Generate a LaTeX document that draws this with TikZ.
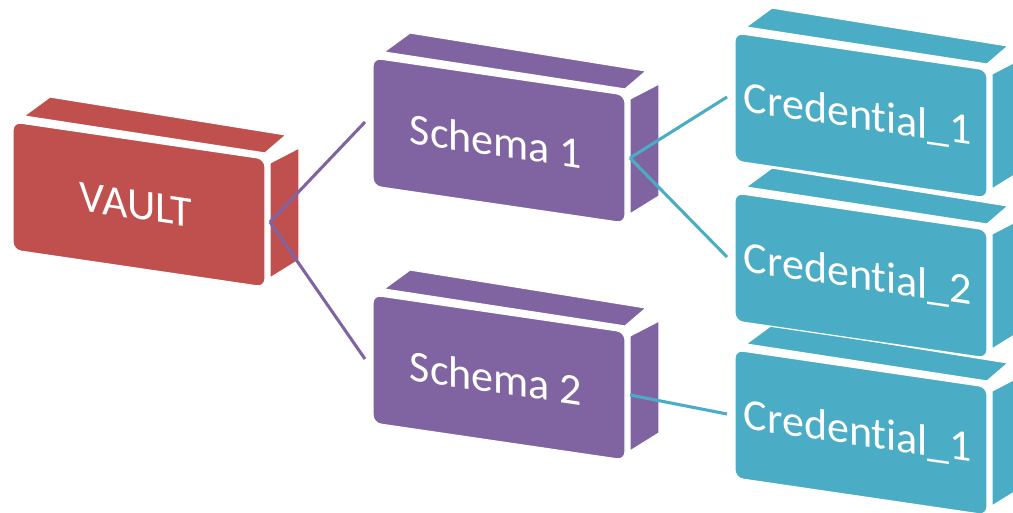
\documentclass[tikz,border=0pt]{standalone}
\usepackage{fontspec}
\setmainfont{Carlito}[Ligatures=NoCommon]
\definecolor{vred}{HTML}{C0504D}
\definecolor{vpurple}{HTML}{8064A2}
\definecolor{vteal}{HTML}{4BACC6}
\tikzset{
  face/.style={fill=#1, draw=white, line width=0.9pt},
  frontface/.style={fill=#1, draw=white, line width=0.9pt, rounded corners=6pt},
  boxtext/.style={text=white, font=\fontsize{33}{40}\selectfont, yslant=-0.147, inner sep=0pt},
  conn/.style={line width=2.3pt, draw=#1},
}
% name, x, y (front top-left, px), colour, text
\newcommand{\threedbox}[5]{%
  \path[face=#4] (#2+11,#3-6) -- (#2+37,#3-25) -- (#2+273,#3+13) -- (#2+252,#3+31) -- cycle;
  \path[face=#4] (#2+257,#3+41) -- (#2+286,#3+26) -- (#2+286,#3+138) -- (#2+257,#3+156) -- cycle;
  \path[frontface=#4] (#2,#3) -- (#2+252,#3+37) -- (#2+252,#3+165) -- (#2,#3+128) -- cycle;
  \node[boxtext] (#1) at (#2+123,#3+83) {#5};
  \coordinate (#1-in) at (#2-8,#3+64);
  \coordinate (#1-out) at (#2+257,#3+100);
}
\begin{document}
\begin{tikzpicture}[x=0.75pt,y=-0.75pt]
\useasboundingbox (0,0) rectangle (1013,513);
\threedbox{vault}{13}{122}{vred}{VAULT}
\threedbox{schemaA}{373}{58}{vpurple}{Schema 1}
\threedbox{schemaB}{373}{295}{vpurple}{Schema 2}
\threedbox{credC}{735}{350}{vteal}{Credential\_1}
\threedbox{credB}{735}{193}{vteal}{Credential\_2}
\threedbox{credA}{735}{33}{vteal}{Credential\_1}
\draw[conn=vpurple] (vault-out) -- (schemaA-in);
\draw[conn=vpurple] (vault-out) -- (schemaB-in);
\draw[conn=vteal] (schemaA-out) -- (credA-in);
\draw[conn=vteal] (schemaA-out) -- (credB-in);
\draw[conn=vteal] (schemaB-out) -- (credC-in);
\end{tikzpicture}
\end{document}
